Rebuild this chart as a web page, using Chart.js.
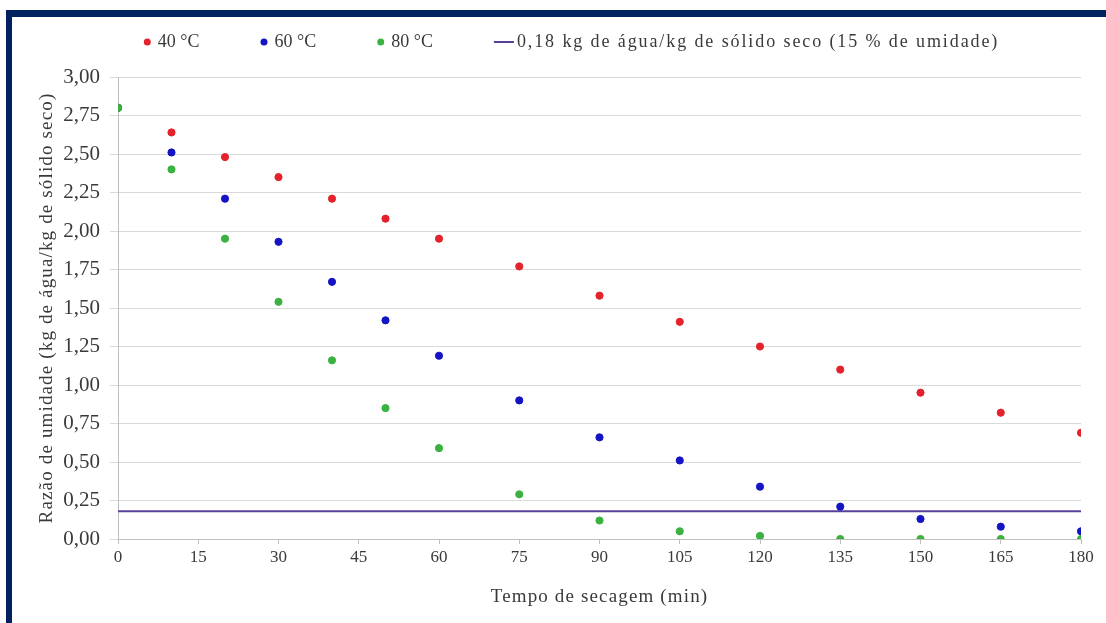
<!DOCTYPE html>
<html>
<head>
<meta charset="utf-8">
<script src="https://cdn.jsdelivr.net/npm/chart.js@4/dist/chart.umd.min.js"></script>
<style>
  html, body { margin: 0; padding: 0; background: #ffffff; }
  #wrap { position: relative; width: 1106px; height: 623px; overflow: hidden; }
  #frame { position: absolute; left: 6px; top: 10px; width: 1100px; height: 613px;
           border-left: 6px solid #002060; border-top: 7px solid #002060; box-sizing: border-box; pointer-events: none; }
  canvas { position: absolute; left: 0; top: 0; }
</style>
</head>
<body>
<div id="wrap">
  <canvas id="c" width="1106" height="623"></canvas>
  <div id="frame"></div>
</div>
<script>
const times = [0, 10, 20, 30, 40, 50, 60, 75, 90, 105, 120, 135, 150, 165, 180];
const ratio40 = [2.80, 2.64, 2.48, 2.35, 2.21, 2.08, 1.95, 1.77, 1.58, 1.41, 1.25, 1.10, 0.95, 0.82, 0.69];
const ratio60 = [2.80, 2.51, 2.21, 1.93, 1.67, 1.42, 1.19, 0.90, 0.66, 0.51, 0.34, 0.21, 0.13, 0.08, 0.05];
const ratio80 = [2.80, 2.40, 1.95, 1.54, 1.16, 0.85, 0.59, 0.29, 0.12, 0.05, 0.02, 0.00, 0.00, 0.00, 0.00];
const limitX = [0, 180];
const limitY = [0.18, 0.18];
const seriesLabels = ['40 °C', '60 °C', '80 °C', '0,18 kg de água/kg de sólido seco (15 % de umidade)'];
const xTitle = 'Tempo de secagem (min)';
const yTitle = 'Razão de umidade (kg de água/kg de sólido seco)';

const FONT = '"Liberation Serif", "Times New Roman", serif';
const TXT = '#3a3a3a';

function pts(xs, ys) { return xs.map((x, i) => ({ x: x, y: ys[i] })); }

const legendPlugin = {
  id: 'topLegend',
  afterDraw(chart) {
    const ctx = chart.ctx;
    const ds = chart.data.datasets;
    ctx.save();
    ctx.font = '18px ' + FONT;
    ctx.textBaseline = 'middle';
    const gapItem = 61;
    const items = ds.map(d => {
      const isLine = !!d.showLine;
      const ls = isLine ? '1.9px' : '0px';
      ctx.letterSpacing = ls;
      const tw = ctx.measureText(d.label).width;
      return { d, isLine, ls, symW: isLine ? 20 : 7, gap: isLine ? 3 : 7, tw };
    });
    let total = 0;
    items.forEach((it, i) => { total += it.symW + it.gap + it.tw + (i < items.length - 1 ? gapItem : 0); });
    let x = 571.5 - total / 2;
    const y = 42;
    items.forEach(it => {
      if (it.isLine) {
        ctx.strokeStyle = it.d.borderColor; ctx.lineWidth = 2;
        ctx.beginPath(); ctx.moveTo(x, y); ctx.lineTo(x + it.symW, y); ctx.stroke();
      } else {
        ctx.fillStyle = it.d.backgroundColor;
        ctx.beginPath(); ctx.arc(x + it.symW / 2, y, 3.5, 0, Math.PI * 2); ctx.fill();
      }
      x += it.symW + it.gap;
      ctx.letterSpacing = it.ls;
      ctx.fillStyle = TXT;
      ctx.fillText(it.d.label, x, y);
      x += it.tw + gapItem;
    });
    ctx.restore();
  }
};

// widen axis-title lettering like the reference
const titleSpacingPlugin = {
  id: 'titleSpacing',
  afterLayout(chart) {
    Object.values(chart.scales).forEach(s => {
      if (s._spacedTitle) return;
      const orig = s.drawTitle;
      s.drawTitle = function () {
        const ctx = this.ctx;
        const prev = ctx.letterSpacing;
        ctx.letterSpacing = '1.15px';
        orig.apply(this, arguments);
        ctx.letterSpacing = prev || '0px';
      };
      s._spacedTitle = true;
    });
  }
};

new Chart(document.getElementById('c'), {
  type: 'scatter',
  data: {
    datasets: [
      { label: seriesLabels[0], data: pts(times, ratio40), backgroundColor: '#e3222b', borderColor: '#e3222b', pointRadius: 3.6, pointHoverRadius: 3.6, order: 2 },
      { label: seriesLabels[1], data: pts(times, ratio60), backgroundColor: '#1414c4', borderColor: '#1414c4', pointRadius: 3.6, pointHoverRadius: 3.6, order: 1 },
      { label: seriesLabels[2], data: pts(times, ratio80), backgroundColor: '#3bb140', borderColor: '#3bb140', pointRadius: 3.6, pointHoverRadius: 3.6, order: 0 },
      { label: seriesLabels[3], data: pts(limitX, limitY), showLine: true, borderColor: '#57409c', backgroundColor: '#57409c', borderWidth: 2, pointRadius: 0, order: 3 }
    ]
  },
  options: {
    responsive: false,
    animation: false,
    layout: { padding: { top: 77, left: 20, right: 25, bottom: 0 } },
    plugins: { legend: { display: false }, tooltip: { enabled: false } },
    scales: {
      x: {
        type: 'linear', min: 0, max: 180,
        ticks: { stepSize: 15, color: TXT, font: { family: FONT, size: 17 }, padding: 3 },
        grid: { drawOnChartArea: false, tickLength: 5, color: '#bfbfbf' },
        border: { color: '#bfbfbf' },
        title: { display: true, text: xTitle, color: TXT, font: { family: FONT, size: 19 }, padding: { top: 0, bottom: 15 } },
        afterFit(s) { s.height = 84; }
      },
      y: {
        min: 0, max: 3,
        ticks: { stepSize: 0.25, color: TXT, font: { family: FONT, size: 21 }, padding: 10,
                 callback: v => v.toFixed(2).replace('.', ',') },
        grid: { color: '#d9d9d9', tickLength: 8 },
        border: { color: '#bfbfbf' },
        title: { display: true, text: yTitle, color: TXT, font: { family: FONT, size: 19 }, padding: { top: 16, bottom: 0 } },
        afterFit(s) { s.width = 98; }
      }
    }
  },
  plugins: [legendPlugin, titleSpacingPlugin]
});
</script>
</body>
</html>
